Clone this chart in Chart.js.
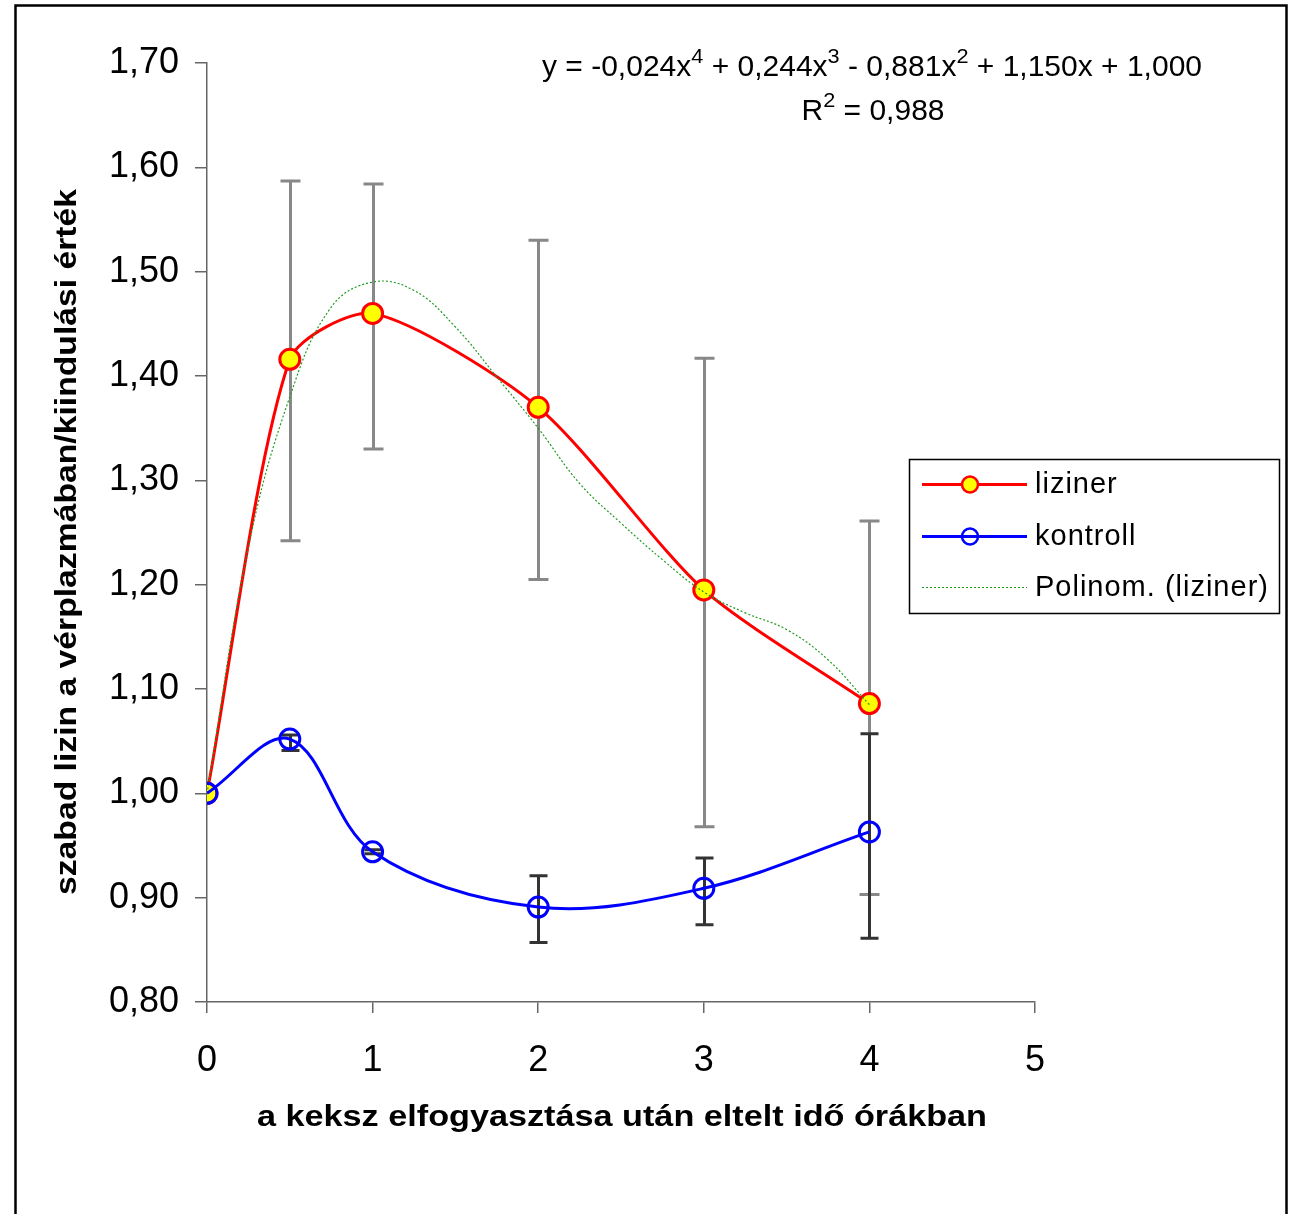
<!DOCTYPE html>
<html>
<head>
<meta charset="utf-8">
<script src="https://cdn.jsdelivr.net/npm/chart.js@4.4.1/dist/chart.umd.min.js"></script>
<style>
	body { margin: 0; background: #fff; }
	canvas { display: block; }
</style>
</head>
<body>
<canvas id="chart" width="1296" height="1214"></canvas>
<script>
// idő (óra)
const hours = [0, 0.5, 1, 2, 3, 4];
const liziner = [1.000, 1.416, 1.460, 1.370, 1.195, 1.086];
const lizinerHigh = [null, 1.587, 1.584, 1.530, 1.417, 1.261];
const lizinerLow = [null, 1.242, 1.330, 1.205, 0.968, 0.903];
const kontroll = [1.000, 1.052, 0.944, 0.891, 0.909, 0.963];
const kontrollHigh = [null, 1.056, 0.946, 0.921, 0.938, 1.057];
const kontrollLow = [null, 1.041, 0.942, 0.857, 0.874, 0.861];
// polinomiális trendvonal
const trendHours = [0, 0.25, 0.5, 0.75, 1, 1.25, 1.5, 1.75, 2, 2.25, 2.5, 2.75, 3, 3.25, 3.5, 3.75, 4];
const trendValues = [1.000, 1.236, 1.380, 1.466, 1.490, 1.482, 1.447, 1.399, 1.350, 1.297, 1.259, 1.224, 1.193, 1.173, 1.157, 1.128, 1.085];
const xTicks = [0, 1, 2, 3, 4, 5];
const yTicks = [0.80, 0.90, 1.00, 1.10, 1.20, 1.30, 1.40, 1.50, 1.60, 1.70];
const seriesNames = ['liziner', 'kontroll', 'Polinom. (liziner)'];
const xTitle = 'a keksz elfogyasztása után eltelt idő órákban';
const yTitle = 'szabad lizin a vérplazmában/kiindulási érték';

const FONT = '"Liberation Sans", Arial, sans-serif';

window.addEventListener('DOMContentLoaded', () => {
	const toPoints = (xs, ys) => xs.map((x, i) => ({ x: x, y: ys[i] }));

	// draws text in one line, squeezed to a given width
	const fitText = (ctx, text, cx, cy, width, font, rotate) => {
		ctx.save();
		ctx.font = font;
		const w = ctx.measureText(text).width;
		ctx.translate(cx, cy);
		if (rotate) ctx.rotate(-Math.PI / 2);
		ctx.scale(width / w, 1);
		ctx.fillStyle = '#000';
		ctx.textAlign = 'center';
		ctx.textBaseline = 'middle';
		ctx.fillText(text, 0, 0);
		ctx.restore();
	};

	// text with superscripts: parts = [[text, isSup], ...]
	const supText = (ctx, parts, cx, baseline, width, size) => {
		ctx.save();
		const fonts = parts.map(p => (p[1] ? Math.round(size * 0.72) : size) + 'px ' + FONT);
		let total = 0;
		const widths = parts.map((p, i) => {
			ctx.font = fonts[i];
			const w = ctx.measureText(p[0]).width;
			total += w;
			return w;
		});
		const k = width / total;
		ctx.translate(cx - width / 2, baseline);
		ctx.scale(k, 1);
		ctx.fillStyle = '#000';
		ctx.textBaseline = 'alphabetic';
		ctx.textAlign = 'left';
		let x = 0;
		parts.forEach((p, i) => {
			ctx.font = fonts[i];
			ctx.fillText(p[0], x, p[1] ? -size * 0.45 : 0);
			x += widths[i];
		});
		ctx.restore();
	};

	const errorBars = {
		id: 'errorBars',
		beforeDatasetsDraw(chart) {
			const ctx = chart.ctx;
			const xs = chart.scales.x;
			const ys = chart.scales.y;
			const drawBars = (low, high, color, half) => {
				ctx.save();
				ctx.strokeStyle = color;
				ctx.lineWidth = 3;
				hours.forEach((h, i) => {
					if (low[i] == null) return;
					const px = Math.round(xs.getPixelForValue(h)) + 0.5;
					const top = ys.getPixelForValue(high[i]);
					const bot = ys.getPixelForValue(low[i]);
					ctx.beginPath();
					ctx.moveTo(px, top);
					ctx.lineTo(px, bot);
					ctx.moveTo(px - half, top);
					ctx.lineTo(px + half, top);
					ctx.moveTo(px - half, bot);
					ctx.lineTo(px + half, bot);
					ctx.stroke();
				});
				ctx.restore();
			};
			drawBars(lizinerLow, lizinerHigh, '#888888', 10);
			drawBars(kontrollLow, kontrollHigh, '#333333', 9);
		}
	};

	const decorations = {
		id: 'decorations',
		afterDraw(chart) {
			const ctx = chart.ctx;

			// frame
			ctx.save();
			ctx.strokeStyle = '#000';
			ctx.lineWidth = 2.5;
			ctx.beginPath();
			ctx.moveTo(15.5, 1220);
			ctx.lineTo(15.5, 5.5);
			ctx.lineTo(1286.5, 5.5);
			ctx.lineTo(1286.5, 1220);
			ctx.stroke();
			ctx.restore();

			// axis titles
			fitText(ctx, xTitle, 622, 1118, 730, 'bold 29px ' + FONT, false);
			fitText(ctx, yTitle, 68, 542, 706, 'bold 29px ' + FONT, true);

			// trend equation
			supText(ctx, [['y = -0,024x', false], ['4', true], [' + 0,244x', false], ['3', true], [' - 0,881x', false], ['2', true], [' + 1,150x + 1,000', false]], 872, 76, 660, 29);
			supText(ctx, [['R', false], ['2', true], [' = 0,988', false]], 873, 120, 143, 29);

			// legend
			ctx.save();
			ctx.strokeStyle = '#000';
			ctx.lineWidth = 1.5;
			ctx.strokeRect(909.5, 459.5, 370, 154);
			const rows = [484, 536, 587];
			const ds = chart.data.datasets;
			rows.forEach((y, i) => {
				const d = ds[i];
				ctx.save();
				ctx.strokeStyle = d.borderColor;
				ctx.lineWidth = d.borderWidth;
				if (d.borderDash) ctx.setLineDash(d.borderDash);
				ctx.beginPath();
				ctx.moveTo(922, y + 0.5);
				ctx.lineTo(1027, y + 0.5);
				ctx.stroke();
				ctx.restore();
				if (d.pointRadius > 0) {
					ctx.save();
					ctx.beginPath();
					ctx.arc(970, y + 0.5, 8, 0, Math.PI * 2);
					if (d.pointBackgroundColor !== 'transparent') {
						ctx.fillStyle = d.pointBackgroundColor;
						ctx.fill();
					}
					ctx.strokeStyle = d.pointBorderColor;
					ctx.lineWidth = 2.5;
					ctx.stroke();
					ctx.restore();
				}
				ctx.fillStyle = '#000';
				ctx.font = '29px ' + FONT;
				ctx.letterSpacing = '1px';
				ctx.textAlign = 'left';
				ctx.textBaseline = 'middle';
				ctx.fillText(seriesNames[i], 1035, y + 1);
			});
			ctx.restore();
		}
	};

	const ctx = document.getElementById('chart').getContext('2d');
	new Chart(ctx, {
		type: 'line',
		data: {
			datasets: [
				{
					label: seriesNames[0],
					data: toPoints(hours, liziner),
					borderColor: '#ff0000',
					borderWidth: 3,
					tension: 0.25,
					pointRadius: 10,
					pointBackgroundColor: '#ffff00',
					pointBorderColor: '#ff0000',
					pointBorderWidth: 3,
					order: 2
				},
				{
					label: seriesNames[1],
					data: toPoints(hours, kontroll),
					borderColor: '#0000ff',
					borderWidth: 3,
					tension: 0.35,
					pointRadius: 10,
					pointBackgroundColor: 'transparent',
					pointBorderColor: '#0000ff',
					pointBorderWidth: 3,
					order: 0
				},
				{
					label: seriesNames[2],
					data: toPoints(trendHours, trendValues),
					borderColor: '#1f9a1f',
					borderWidth: 1.2,
					borderDash: [2, 2],
					tension: 0.4,
					pointRadius: 0,
					order: 1
				}
			]
		},
		options: {
			responsive: false,
			animation: false,
			devicePixelRatio: 1,
			layout: { padding: { left: 0, top: 63, right: 261, bottom: 0 } },
			plugins: {
				legend: { display: false },
				tooltip: { enabled: false }
			},
			scales: {
				x: {
					type: 'linear',
					min: 0,
					max: 5,
					afterFit: (scale) => { scale.height = 212; },
					afterBuildTicks: (scale) => { scale.ticks = xTicks.map(v => ({ value: v })); },
					ticks: {
						font: { family: FONT, size: 36 },
						color: '#000',
						padding: 26,
						maxRotation: 0,
						callback: (v) => String(v)
					},
					grid: {
						drawOnChartArea: false,
						drawTicks: true,
						tickLength: 11,
						color: '#666666',
						lineWidth: 1.5
					},
					border: { color: '#666666', width: 1.5 }
				},
				y: {
					type: 'linear',
					min: 0.8,
					max: 1.7,
					afterFit: (scale) => { scale.width = 207; },
					afterBuildTicks: (scale) => { scale.ticks = yTicks.map(v => ({ value: v })); },
					ticks: {
						font: { family: FONT, size: 36 },
						color: '#000',
						padding: 16,
						callback: (v) => v.toFixed(2).replace('.', ',')
					},
					grid: {
						drawOnChartArea: false,
						drawTicks: true,
						tickLength: 12,
						color: '#666666',
						lineWidth: 1.5
					},
					border: { color: '#666666', width: 1.5 }
				}
			}
		},
		plugins: [errorBars, decorations]
	});
});
</script>
</body>
</html>
